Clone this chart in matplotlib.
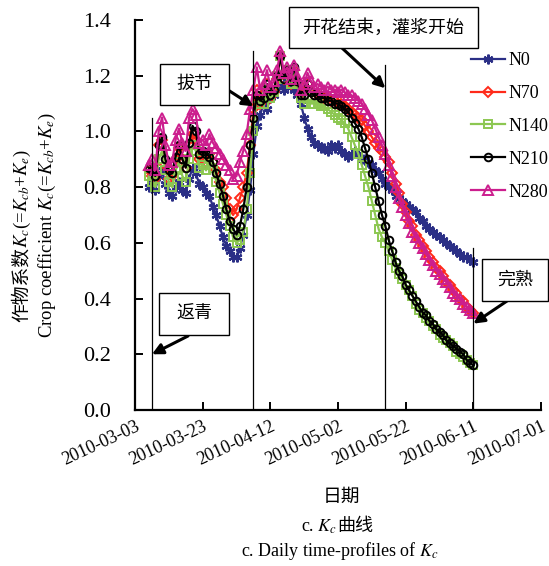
import numpy as np
import pandas as pd
import matplotlib
matplotlib.use("Agg")
import matplotlib.pyplot as plt
import matplotlib.dates as mdates
from matplotlib.patches import Rectangle

plt.rcParams['font.family'] = ['Liberation Serif', 'Noto Sans CJK SC']
plt.rcParams['mathtext.fontset'] = 'stix'

# daily Kc, 2010-03-07 .. 2010-06-11
dates = pd.date_range('2010-03-07', '2010-06-11', freq='D')

n0 = [0.80, 0.82, 0.79, 0.84, 0.86, 0.81, 0.78, 0.77, 0.80, 0.82,
      0.79, 0.78, 0.83, 0.87, 0.85, 0.81, 0.80, 0.78, 0.77, 0.73,
      0.70, 0.66, 0.62, 0.59, 0.57, 0.55, 0.55, 0.58, 0.63, 0.70,
      0.79, 0.92, 1.02, 1.06, 1.10, 1.08, 1.12, 1.13, 1.15, 1.17,
      1.15, 1.18, 1.16, 1.15, 1.13, 1.10, 1.05, 1.01, 0.98, 0.96,
      0.95, 0.94, 0.94, 0.93, 0.95, 0.94, 0.95, 0.93, 0.92, 0.91,
      0.92, 0.93, 0.92, 0.90, 0.90, 0.89, 0.88, 0.86, 0.85, 0.83,
      0.81, 0.80, 0.79, 0.77, 0.76, 0.75, 0.74, 0.73, 0.72, 0.71,
      0.69, 0.68, 0.66, 0.65, 0.64, 0.63, 0.62, 0.61, 0.60, 0.59,
      0.58, 0.57, 0.56, 0.55, 0.55, 0.54, 0.53]

n70 = [0.86, 0.84, 0.83, 0.95, 0.97, 0.88, 0.83, 0.84, 0.90, 0.94,
       0.90, 0.87, 0.95, 0.99, 0.97, 0.90, 0.91, 0.89, 0.92, 0.89,
       0.86, 0.82, 0.80, 0.76, 0.72, 0.70, 0.72, 0.76, 0.80, 0.85,
       0.95, 1.08, 1.15, 1.10, 1.13, 1.17, 1.12, 1.14, 1.19, 1.27,
       1.19, 1.21, 1.17, 1.22, 1.18, 1.13, 1.14, 1.17, 1.14, 1.13,
       1.13, 1.12, 1.12, 1.12, 1.11, 1.11, 1.10, 1.10, 1.09, 1.08,
       1.07, 1.06, 1.05, 1.04, 1.02, 1.00, 0.98, 0.96, 0.94, 0.93,
       0.91, 0.89, 0.85, 0.81, 0.78, 0.74, 0.71, 0.68, 0.66, 0.63,
       0.61, 0.59, 0.57, 0.55, 0.53, 0.51, 0.50, 0.48, 0.46, 0.45,
       0.43, 0.42, 0.40, 0.39, 0.37, 0.36, 0.35]

n140 = [0.84, 0.82, 0.80, 0.90, 0.93, 0.86, 0.82, 0.80, 0.86, 0.89,
        0.84, 0.82, 0.90, 0.95, 0.93, 0.87, 0.88, 0.86, 0.90, 0.87,
        0.82, 0.78, 0.74, 0.70, 0.66, 0.62, 0.60, 0.61, 0.64, 0.72,
        0.85, 1.00, 1.12, 1.10, 1.10, 1.15, 1.12, 1.14, 1.20, 1.27,
        1.19, 1.22, 1.17, 1.22, 1.17, 1.12, 1.10, 1.12, 1.10, 1.10,
        1.10, 1.09, 1.09, 1.08, 1.07, 1.06, 1.05, 1.04, 1.03, 1.01,
        0.98, 0.95, 0.92, 0.88, 0.84, 0.80, 0.75, 0.70, 0.65, 0.62,
        0.60, 0.57, 0.54, 0.51, 0.49, 0.47, 0.45, 0.43, 0.41, 0.38,
        0.36, 0.35, 0.33, 0.32, 0.30, 0.29, 0.27, 0.26, 0.25, 0.24,
        0.23, 0.21, 0.20, 0.19, 0.18, 0.17, 0.16]

n210 = [0.87, 0.86, 0.84, 0.95, 0.98, 0.90, 0.86, 0.85, 0.91, 0.95,
        0.90, 0.87, 0.96, 1.02, 1.00, 0.92, 0.93, 0.92, 0.91, 0.89,
        0.85, 0.81, 0.77, 0.72, 0.68, 0.65, 0.63, 0.66, 0.72, 0.80,
        0.95, 1.05, 1.13, 1.11, 1.12, 1.17, 1.13, 1.15, 1.20, 1.27,
        1.19, 1.22, 1.18, 1.23, 1.18, 1.13, 1.13, 1.17, 1.14, 1.13,
        1.13, 1.12, 1.12, 1.11, 1.11, 1.10, 1.10, 1.09, 1.08, 1.07,
        1.05, 1.03, 1.01, 0.98, 0.94, 0.90, 0.85, 0.80, 0.75, 0.70,
        0.66, 0.61, 0.57, 0.53, 0.50, 0.48, 0.45, 0.43, 0.41, 0.39,
        0.37, 0.35, 0.34, 0.32, 0.31, 0.29, 0.28, 0.27, 0.25, 0.24,
        0.23, 0.22, 0.21, 0.20, 0.18, 0.17, 0.16]

n280 = [0.88, 0.90, 0.86, 1.00, 1.05, 0.95, 0.88, 0.89, 0.97, 1.01,
        0.96, 0.93, 1.05, 1.08, 1.06, 0.96, 0.97, 0.95, 0.99, 0.96,
        0.94, 0.92, 0.90, 0.88, 0.86, 0.83, 0.84, 0.89, 0.93, 0.99,
        1.08, 1.15, 1.23, 1.15, 1.17, 1.22, 1.16, 1.18, 1.22, 1.29,
        1.21, 1.23, 1.19, 1.24, 1.20, 1.15, 1.17, 1.21, 1.18, 1.16,
        1.17, 1.16, 1.15, 1.16, 1.15, 1.15, 1.14, 1.15, 1.14, 1.13,
        1.13, 1.12, 1.11, 1.10, 1.08, 1.06, 1.04, 1.01, 0.98, 0.95,
        0.92, 0.88, 0.84, 0.80, 0.76, 0.73, 0.70, 0.67, 0.64, 0.62,
        0.60, 0.58, 0.56, 0.54, 0.52, 0.50, 0.49, 0.47, 0.46, 0.44,
        0.42, 0.41, 0.40, 0.38, 0.37, 0.36, 0.35]

labels = ['N0', 'N70', 'N140', 'N210', 'N280']

# growth stages: date, height of the marker line, arrow tip value, text
stage_dates = pd.to_datetime(['2010-03-08', '2010-04-07', '2010-05-16', '2010-06-11'])
stage_tops = [1.05, 1.29, 1.24, 0.58]
stage_tips = [0.20, 1.09, 1.155, 0.31]
stage_names = ['返青', '拔节', '开花结束，灌浆开始', '完熟']

W, H = 549, 566
fig = plt.figure(figsize=(W / 100, H / 100), dpi=100)

def fx(x):
    return x / W

def fy(y):
    return 1 - y / H

ax = fig.add_axes([fx(135), fy(410), fx(541 - 135), (410 - 20) / H])

styles = [
    dict(color='#2B2F86', marker=(6, 2, 0), ms=7, mew=1.6),
    dict(color='#FF2A1A', marker='D', ms=5, mew=1.4, mfc='none'),
    dict(color='#8CC751', marker='s', ms=5.5, mew=1.4, mfc='none'),
    dict(color='black', marker='o', ms=5.5, mew=1.4, mfc='none'),
    dict(color='#CC1E8E', marker='^', ms=7, mew=1.4, mfc='none'),
]
series = [n0, n70, n140, n210, n280]
for vals, lab, st in zip(series, labels, styles):
    ax.plot(dates, vals, lw=1.6, label=lab, **st)

for d, top in zip(stage_dates, stage_tops):
    ax.plot([d, d], [0, top], color='black', lw=0.9)

start = pd.Timestamp('2010-03-03')
end = pd.Timestamp('2010-07-01')
ax.set_xlim(start, end)
ax.set_ylim(0, 1.4)
ax.set_xticks(pd.date_range(start, end, freq='20D'))
ax.xaxis.set_major_formatter(mdates.DateFormatter('%Y-%m-%d'))
ax.set_yticks(np.arange(0, 1.41, 0.2))
ax.yaxis.set_major_formatter(plt.FormatStrFormatter('%.1f'))

for s in ['top', 'right']:
    ax.spines[s].set_visible(False)
for s in ['left', 'bottom']:
    ax.spines[s].set_linewidth(1.6)
ax.tick_params(direction='in', length=6, width=1.4)
ax.tick_params(axis='y', labelsize=16, pad=17)
ax.tick_params(axis='x', labelsize=13, pad=6)
for t in ax.get_xticklabels():
    t.set_rotation(25)
    t.set_ha('right')
    t.set_rotation_mode('anchor')

# text boxes (pixel layout) and arrows
boxes = [(159, 293, 229, 335), (160, 64, 229, 105), (289, 7, 478, 48), (482, 259, 548, 301)]
tails = [(188, 336), (228, 90), (342, 48), (507, 301)]
for (x0, y0, x1, y1), name, tail, d, tip in zip(boxes, stage_names, tails, stage_dates, stage_tips):
    fig.add_artist(Rectangle((fx(x0), fy(y1)), fx(x1 - x0), (y1 - y0) / H,
                             transform=fig.transFigure, facecolor='white',
                             edgecolor='black', lw=1.0, zorder=5))
    fig.text(fx((x0 + x1) / 2), fy((y0 + y1) / 2), name, ha='center', va='center',
             fontsize=13, zorder=6)
    ax.annotate('', xy=(d, tip), xycoords='data', xytext=(fx(tail[0]), fy(tail[1])),
                textcoords='figure fraction',
                arrowprops=dict(arrowstyle='-|>', color='black', lw=2.2,
                                mutation_scale=16, shrinkA=0, shrinkB=0))

ax.legend(loc='upper left', bbox_to_anchor=(fx(462), fy(43)), bbox_transform=fig.transFigure,
          frameon=False, fontsize=13, handlelength=1.9, handletextpad=0.15,
          labelspacing=0.88, borderpad=0, numpoints=1)

# y label: Chinese and math parts drawn separately (mathtext has no CJK fallback)
fig.text(fx(22), fy(284), '作物系数', rotation=90, ha='center', va='center', fontsize=13.5)
fig.text(fx(22), fy(248), '$K_c$(=$K_{cb}$+$K_e$)', rotation=90,
         ha='center', va='bottom', fontsize=13.5)
fig.text(fx(47), fy(225), 'Crop coefficient $K_c$(=$K_{cb}$+$K_e$)', rotation=90,
         ha='center', va='center', fontsize=13.5)

fig.text(fx(341), fy(497), '日期', ha='center', va='center', fontsize=13.5)
fig.text(fx(337), fy(527), 'c. $K_c$', ha='right', va='center', fontsize=13)
fig.text(fx(337), fy(527), '曲线', ha='left', va='center', fontsize=13)
fig.text(fx(340), fy(551), 'c. Daily time-profiles of $K_c$', ha='center', va='center', fontsize=13)

fig.savefig('out.png', dpi=100)
